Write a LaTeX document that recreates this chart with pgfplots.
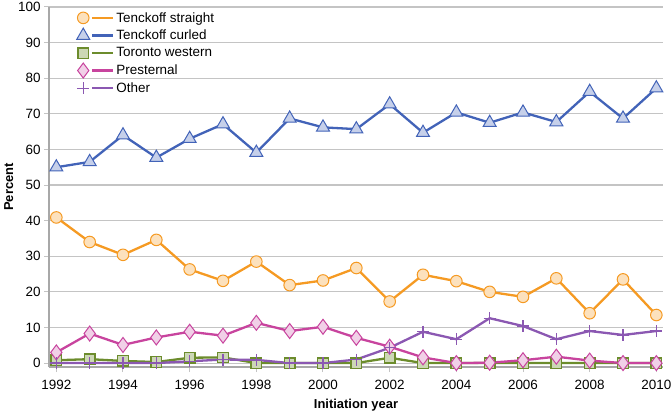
\documentclass[border=0pt]{standalone}
\usepackage{fontspec}
\setmainfont{Liberation Sans}
\usepackage{pgfplots}
\pgfplotsset{compat=1.18}

\definecolor{cOrange}{HTML}{F59A23}
\definecolor{cBlue}{HTML}{4263B8}
\definecolor{cGreen}{HTML}{6C8C2C}
\definecolor{cPink}{HTML}{C8449E}
\definecolor{cPurple}{HTML}{8B58B2}
\definecolor{cGrid}{HTML}{C4C4C4}
\definecolor{cAxis}{HTML}{A8A8A8}

\pgfplotsset{
  mylegend/.style={
    legend image code/.code={
      \draw[mark=none] (9bp,0bp) -- (30bp,0bp);
      \draw plot coordinates {(0bp,0bp)};
    }
  }
}

\begin{document}
\begin{tikzpicture}
\begin{axis}[
  scale only axis,
  width=614bp, height=360bp,
  xmin=1991.78, xmax=2010.2,
  ymin=-1.1, ymax=100,
  axis x line*=bottom, axis y line*=left,
  axis line style={-, draw=cAxis, line width=2.2bp},
  xtick={1992,1994,...,2010},
  ytick={0,10,...,100},
  ymajorgrids,
  grid style={draw=cGrid, line width=1.1bp},
  tick align=outside,
  major tick length=5bp,
  tick style={draw=cGrid, line width=1bp},
  /pgf/number format/assume math mode=true,
  /pgf/number format/1000 sep={},
  tick label style={font=\fontsize{13.5}{15}\selectfont},
  xticklabel style={yshift=-5bp},
  xlabel={\textbf{Initiation year}},
  ylabel={\textbf{Percent}},
  label style={font=\fontsize{13}{15}\selectfont},
  xlabel style={yshift=-2bp},
  ylabel style={yshift=-2bp},
  legend style={
    at={(rel axis cs:0.04,0.997)}, anchor=north west,
    draw=none, fill=none,
    font=\fontsize{13.5}{15}\selectfont,
    row sep=2.5bp,
    cells={anchor=west},
  },
  mylegend,
  every axis plot/.append style={line width=2.3bp},
]

\addplot[color=cOrange, mark=*, mark size=5.8bp,
  mark options={fill=cOrange!30!white, draw=cOrange, line width=1bp}]
coordinates {
  (1992,40.9) (1993,34.0) (1994,30.4) (1995,34.6) (1996,26.3)
  (1997,23.1) (1998,28.5) (1999,21.9) (2000,23.2) (2001,26.7)
  (2002,17.3) (2003,24.8) (2004,23.0) (2005,20.0) (2006,18.6)
  (2007,23.8) (2008,14.0) (2009,23.5) (2010,13.5)
};
\addlegendentry{Tenckoff straight}

\addplot[color=cBlue, mark=triangle*, mark size=7.5bp,
  mark options={fill=cBlue!30!white, draw=cBlue, line width=1bp}]
coordinates {
  (1992,55.0) (1993,56.5) (1994,64.0) (1995,57.7) (1996,63.0)
  (1997,67.1) (1998,59.1) (1999,68.7) (2000,66.2) (2001,65.7)
  (2002,72.7) (2003,64.7) (2004,70.4) (2005,67.5) (2006,70.4)
  (2007,67.7) (2008,76.2) (2009,68.7) (2010,77.2)
};
\addlegendentry{Tenckoff curled}

\addplot[color=cGreen, mark=square*, mark size=5.2bp,
  mark options={fill=cGreen!35!white, draw=cGreen, line width=1.3bp}]
coordinates {
  (1992,0.8) (1993,1.1) (1994,0.6) (1995,0.3) (1996,1.5)
  (1997,1.6) (1998,0.0) (1999,0.0) (2000,0.0) (2001,0.0)
  (2002,1.5) (2003,0.0) (2004,0.0) (2005,0.0) (2006,0.0)
  (2007,0.0) (2008,0.0) (2009,0.0) (2010,0.0)
};
\addlegendentry{Toronto western}

\addplot[color=cPink, mark=diamond*, mark size=7.5bp,
  mark options={fill=cPink!25!white, draw=cPink, line width=1bp}]
coordinates {
  (1992,3.0) (1993,8.3) (1994,5.1) (1995,7.2) (1996,8.8)
  (1997,7.7) (1998,11.3) (1999,9.0) (2000,10.2) (2001,7.1)
  (2002,4.6) (2003,1.6) (2004,0.0) (2005,0.1) (2006,0.8)
  (2007,1.8) (2008,0.7) (2009,0.0) (2010,0.0)
};
\addlegendentry{Presternal}

\addplot[color=cPurple, mark=+, mark size=6bp,
  mark options={draw=cPurple, line width=1.4bp}]
coordinates {
  (1992,0.0) (1993,0.0) (1994,0.0) (1995,0.0) (1996,0.5)
  (1997,1.0) (1998,0.9) (1999,0.0) (2000,0.0) (2001,1.0)
  (2002,4.3) (2003,8.8) (2004,6.7) (2005,12.6) (2006,10.4)
  (2007,6.7) (2008,9.0) (2009,7.9) (2010,9.0)
};
\addlegendentry{Other}

\end{axis}
\pgfresetboundingbox
\path (current axis.south west) ++(-49bp,-48bp) coordinate (bbA);
\path (current axis.north east) ++(9bp,7bp) coordinate (bbB);
\useasboundingbox (bbA) rectangle (bbB);
\end{tikzpicture}
\end{document}
